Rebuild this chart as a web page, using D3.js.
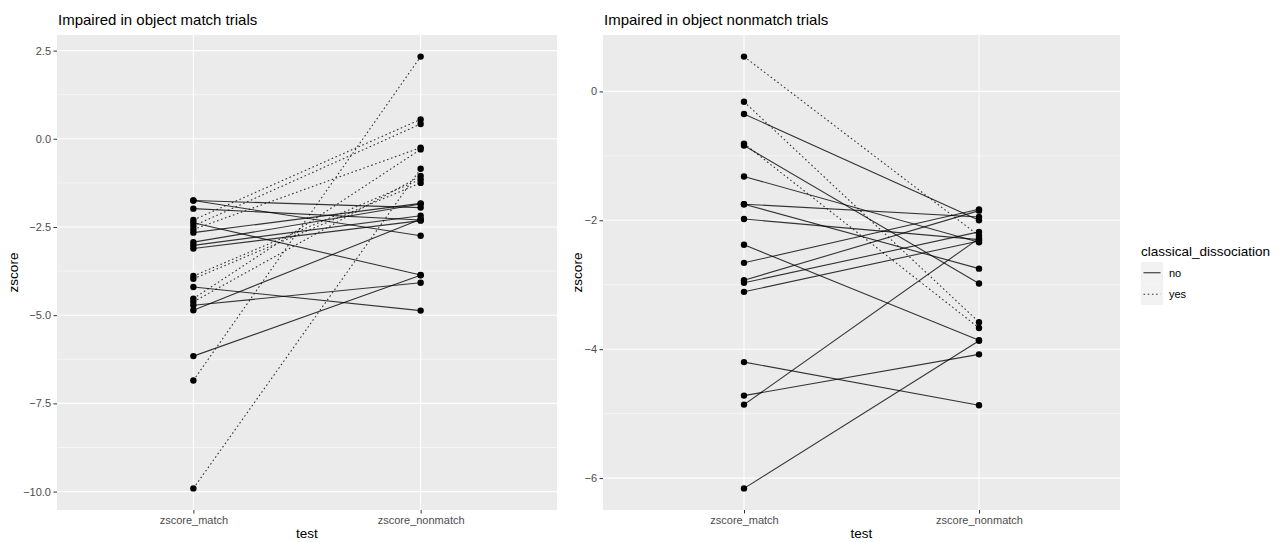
<!DOCTYPE html>
<html>
<head>
<meta charset="utf-8">
<script src="https://cdn.jsdelivr.net/npm/d3@7"></script>
<style>
  html, body { margin: 0; padding: 0; background: #ffffff; }
  svg { display: block; font-family: "Liberation Sans", Arial, sans-serif; }
</style>
</head>
<body>
<svg id="chart" width="1287" height="542"></svg>
<script>
// ---- data -------------------------------------------------------------
const testLevels = ["zscore_match", "zscore_nonmatch"];

// Panel 1: impaired in object match trials
const matchPanelMatch    = [-1.75, -1.75, -1.98, -2.38, -2.66, -2.93, -3.02, -3.11, -4.20, -4.72, -4.86, -6.16,
                            -2.30, -2.47, -2.57, -3.89, -3.97, -4.53, -4.62, -6.85, -9.91];
const matchPanelNonmatch = [-1.95, -2.75, -2.30, -3.86, -1.83, -1.85, -2.18, -2.32, -4.87, -4.08, -2.28, -3.87,
                             0.55,  0.42, -0.25, -1.15, -1.25, -0.30, -1.05,  2.33, -0.85];
const matchPanelDissoc   = ["no","no","no","no","no","no","no","no","no","no","no","no",
                            "yes","yes","yes","yes","yes","yes","yes","yes","yes"];
const matchPanelTicks    = [2.5, 0.0, -2.5, -5.0, -7.5, -10.0];

// Panel 2: impaired in object nonmatch trials
const nonmatchPanelMatch    = [0.54, -0.16, -0.35, -0.81, -0.84, -1.32, -1.75, -1.75, -1.98, -2.38, -2.66, -2.93,
                               -2.97, -3.11, -4.20, -4.72, -4.86, -6.16];
const nonmatchPanelNonmatch = [-2.24, -3.58, -2.00, -3.67, -2.98, -2.34, -1.95, -2.75, -2.30, -3.86, -1.83, -1.85,
                               -2.18, -2.32, -4.87, -4.08, -2.28, -3.87];
const nonmatchPanelDissoc   = ["yes","yes","no","yes","no","no","no","no","no","no","no","no",
                               "no","no","no","no","no","no"];
const nonmatchPanelTicks    = [0, -2, -4, -6];

const legendLevels = ["no", "yes"];

// ---- styling ----------------------------------------------------------
const PANEL_BG = "#EBEBEB";
const dashFor = d => d === "yes" ? "1.6,2.6" : null;

const svg = d3.select("#chart");

function drawPanel(cfg) {
  const { left, right, top, bottom, title, match, nonmatch, dissoc, ticks, fmt } = cfg;
  const w = right - left, h = bottom - top;
  const g = svg.append("g").attr("transform", `translate(${left},${top})`);

  const x = d3.scalePoint().domain(testLevels).range([0, w]).padding(0.6);

  const all = match.concat(nonmatch);
  const lo = d3.min(all), hi = d3.max(all), pad = (hi - lo) * 0.05;
  const y = d3.scaleLinear().domain([lo - pad, hi + pad]).range([h, 0]);

  g.append("rect").attr("width", w).attr("height", h).attr("fill", PANEL_BG);

  // minor gridlines halfway between major ticks
  const step = Math.abs(ticks[0] - ticks[1]);
  const minors = [];
  for (let v = ticks[ticks.length - 1] - step / 2; v <= ticks[0] + step / 2 + 1e-9; v += step) {
    if (v >= y.domain()[0] && v <= y.domain()[1]) minors.push(v);
  }
  g.selectAll(".minor").data(minors).join("line")
    .attr("x1", 0).attr("x2", w)
    .attr("y1", d => y(d)).attr("y2", d => y(d))
    .attr("stroke", "#ffffff").attr("stroke-width", 0.55);

  g.selectAll(".majorY").data(ticks).join("line")
    .attr("x1", 0).attr("x2", w)
    .attr("y1", d => y(d)).attr("y2", d => y(d))
    .attr("stroke", "#ffffff").attr("stroke-width", 1.1);

  g.selectAll(".majorX").data(testLevels).join("line")
    .attr("x1", d => x(d)).attr("x2", d => x(d))
    .attr("y1", 0).attr("y2", h)
    .attr("stroke", "#ffffff").attr("stroke-width", 1.1);

  // paired lines
  const pairs = match.map((m, i) => ({ m, n: nonmatch[i], d: dissoc[i] }));
  g.selectAll(".pair").data(pairs).join("line")
    .attr("x1", x(testLevels[0])).attr("x2", x(testLevels[1]))
    .attr("y1", d => y(d.m)).attr("y2", d => y(d.n))
    .attr("stroke", "#000").attr("stroke-opacity", 0.78)
    .attr("stroke-width", 1.1)
    .attr("stroke-dasharray", d => dashFor(d.d));

  // points
  const pts = [];
  pairs.forEach(p => { pts.push({ t: testLevels[0], v: p.m }); pts.push({ t: testLevels[1], v: p.n }); });
  g.selectAll(".pt").data(pts).join("circle")
    .attr("cx", d => x(d.t)).attr("cy", d => y(d.v)).attr("r", 3.2)
    .attr("fill", "#000");

  // axes
  const ya = d3.axisLeft(y).tickValues(ticks).tickFormat(fmt).tickSize(3.5).tickPadding(2.5);
  const yg = g.append("g").call(ya);
  const xa = d3.axisBottom(x).tickSize(3.5).tickPadding(3);
  const xg = g.append("g").attr("transform", `translate(0,${h})`).call(xa);
  [yg, xg].forEach(a => {
    a.select(".domain").remove();
    a.selectAll(".tick line").attr("stroke", "#333333").attr("stroke-width", 1);
    a.selectAll(".tick text").attr("fill", "#4D4D4D").style("font-size", "11px")
      .style("font-family", "'Liberation Sans', Arial, sans-serif");
  });

  // titles
  svg.append("text").attr("x", left + 1).attr("y", top - 10)
    .style("font-size", "15px").attr("fill", "#000").text(title);
  svg.append("text").attr("x", left + w / 2).attr("y", 538)
    .attr("text-anchor", "middle").style("font-size", "13.5px").attr("fill", "#000").text("test");
  svg.append("text")
    .attr("transform", `translate(${cfg.yTitleX},${top + h / 2}) rotate(-90)`)
    .attr("text-anchor", "middle").style("font-size", "13.5px").attr("fill", "#000").text("zscore");
}

drawPanel({
  left: 57, right: 557, top: 35, bottom: 510,
  title: "Impaired in object match trials",
  match: matchPanelMatch, nonmatch: matchPanelNonmatch, dissoc: matchPanelDissoc,
  ticks: matchPanelTicks, fmt: d3.format(".1f"), yTitleX: 18
});

drawPanel({
  left: 603, right: 1120, top: 35, bottom: 510,
  title: "Impaired in object nonmatch trials",
  match: nonmatchPanelMatch, nonmatch: nonmatchPanelNonmatch, dissoc: nonmatchPanelDissoc,
  ticks: nonmatchPanelTicks, fmt: d3.format("d"), yTitleX: 582
});

// ---- legend -----------------------------------------------------------
const lg = svg.append("g").attr("transform", "translate(1141,0)");
lg.append("text").attr("x", 0).attr("y", 256).style("font-size", "13.5px").attr("fill", "#000")
  .text("classical_dissociation");
const keys = lg.selectAll(".key").data(legendLevels).join("g")
  .attr("transform", (d, i) => `translate(0,${262 + i * 21.5})`);
keys.append("rect").attr("width", 22).attr("height", 21.5).attr("fill", "#F2F2F2");
keys.append("line").attr("x1", 2.5).attr("x2", 19.5).attr("y1", 10.75).attr("y2", 10.75)
  .attr("stroke", "#000").attr("stroke-opacity", 0.8).attr("stroke-width", 1.1)
  .attr("stroke-dasharray", d => dashFor(d));
keys.append("text").attr("x", 28).attr("y", 14.5).style("font-size", "11px").attr("fill", "#000")
  .text(d => d);
</script>
</body>
</html>
